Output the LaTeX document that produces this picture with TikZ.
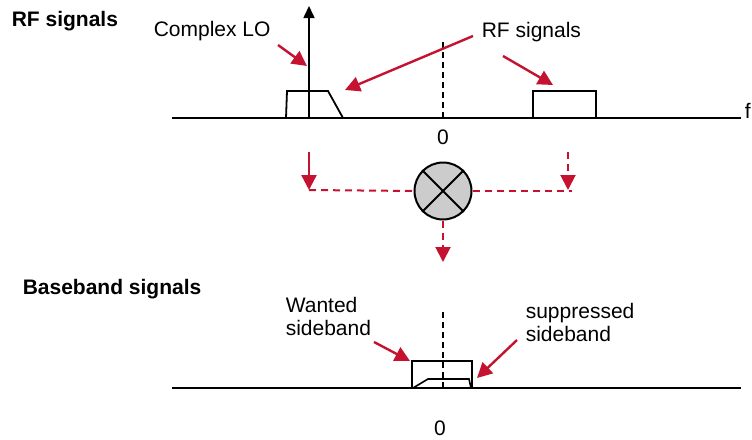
\documentclass[tikz,border=0pt]{standalone}
\usepackage{fontspec}
\setmainfont{Liberation Sans}
\usetikzlibrary{arrows.meta}
\definecolor{sigred}{RGB}{196,18,48}

\begin{document}
\begin{tikzpicture}[x=1pt, y=-1pt, line width=1.6pt,
    red arrow/.style={draw=sigred, line width=2.4pt, -{Triangle[width=15pt,length=15pt]}},
    red dash/.style={draw=sigred, line width=2pt, dash pattern=on 7pt off 5pt},
    zero line/.style={line width=1.6pt, dash pattern=on 6pt off 4pt},
    mixer node/.style={circle, draw, line width=2pt, fill=black!20, minimum size=57pt}]
  \tikzstyle{every node}=[font=\fontsize{21}{22.5}\selectfont, inner sep=0pt]
  \useasboundingbox (0,0) rectangle (752,439);

  % titles
  \node[anchor=base west, font=\fontsize{21}{22.5}\selectfont\bfseries] (rftitle) at (11,27) {RF signals};
  \node[anchor=base west, font=\fontsize{21}{22.5}\selectfont\bfseries] (bbtitle) at (22,294) {Baseband signals};

  % RF axis
  \coordinate (rfleft) at (172,118);
  \coordinate (rfright) at (741,118);
  \draw (rfleft) -- (rfright);
  \node[anchor=base west] (f) at (744,118) {f};
  \node (rfzero) at (443,137) {0};
  \coordinate (rfdashtop) at (443,42);
  \coordinate (rfdashbot) at (443,118);
  \draw[zero line] (rfdashtop) -- (rfdashbot);

  % complex LO line
  \coordinate (lobase) at (309,118);
  \coordinate (lotop) at (309,6);
  \draw[-{Triangle[width=11pt,length=12pt]}] (lobase) -- (lotop);

  % RF signal bands
  \draw[line width=1.8pt] (286,118) -- (287,91) -- (328,91) -- (343,118);
  \draw[line width=1.8pt] (533,118) rectangle (596,91);

  % RF labels and pointers
  \node[anchor=base west] (lolabel) at (153,36) {Complex LO};
  \node[anchor=base west] (rflabel) at (481,37) {RF signals};
  \coordinate (lofrom) at (278,45);
  \coordinate (loto) at (307,66);
  \coordinate (rffroma) at (473,36);
  \coordinate (rftoa) at (345,90);
  \coordinate (rffromb) at (503,56);
  \coordinate (rftob) at (553,85);
  \draw[red arrow] (lofrom) -- (loto);
  \draw[red arrow] (rffroma) -- (rftoa);
  \draw[red arrow] (rffromb) -- (rftob);

  % mixer
  \node[mixer node] (mix) at (443,191) {};
  \draw[line width=2pt] (mix.north west) -- (mix.south east);
  \draw[line width=2pt] (mix.north east) -- (mix.south west);
  \coordinate (ltop) at (309,152);
  \coordinate (lbot) at (309,190);
  \coordinate (rtop) at (568,152);
  \coordinate (rbot) at (568,190);
  \coordinate (rend) at (572,191);
  \coordinate (mixout) at (443,262);
  \draw[red arrow] (ltop) -- (lbot);
  \draw[red arrow, red dash] (rtop) -- (rbot);
  \draw[red dash] (lbot) -- (mix.west);
  \draw[red dash] (mix.east) -- (rend);
  \draw[red arrow, red dash] (mix.south) -- (mixout);

  % baseband axis
  \coordinate (bbleft) at (172,388);
  \coordinate (bbright) at (741,388);
  \draw (bbleft) -- (bbright);
  \node (bbzero) at (440,428) {0};
  \coordinate (bbdashtop) at (443,312);
  \coordinate (bbdashbot) at (443,388);
  \draw[zero line] (bbdashtop) -- (bbdashbot);

  % baseband bands
  \draw[line width=1.8pt] (412,388) rectangle (472,361);
  \draw[line width=1.6pt] (413,388) -- (428,379) -- (469,379) -- (471,388);

  % baseband labels and pointers (base is the last line)
  \node[anchor=base west, align=left] (wanted) at (285,335) {Wanted\\sideband};
  \node[anchor=base west, align=left] (suppr) at (525,341) {suppressed\\sideband};
  \coordinate (wfrom) at (374,342);
  \coordinate (wto) at (410,361);
  \coordinate (sfrom) at (517,340);
  \coordinate (sto) at (477,378);
  \draw[red arrow] (wfrom) -- (wto);
  \draw[red arrow] (sfrom) -- (sto);
\end{tikzpicture}
\end{document}
